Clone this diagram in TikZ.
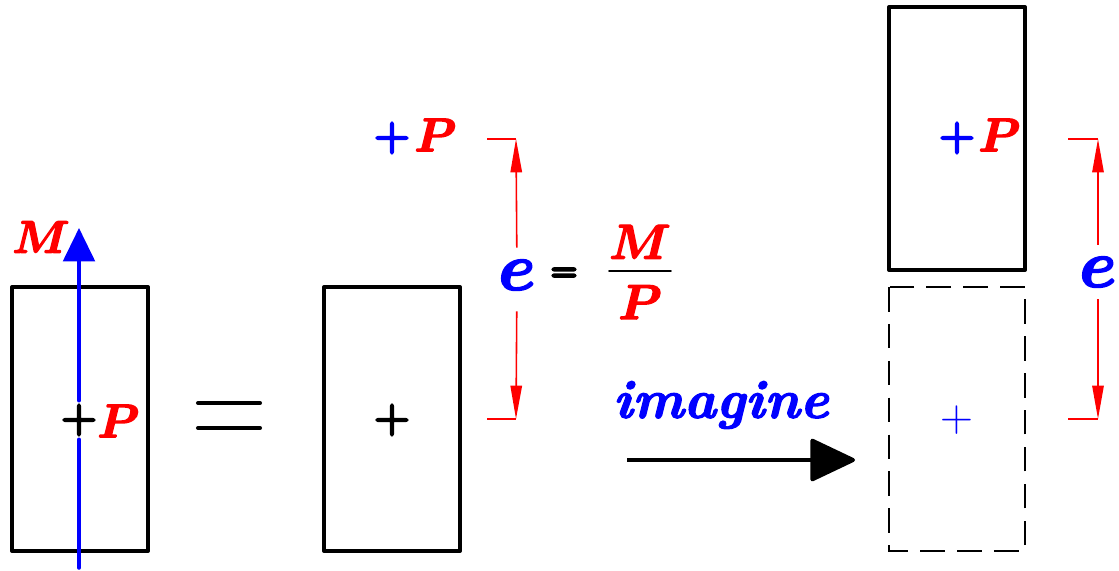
\RequirePackage{fix-cm}
\documentclass[tikz,border=0pt]{standalone}
\usepackage{amsmath,bm}
\usetikzlibrary{arrows.meta}
\newcommand{\fsz}[1]{\fontsize{#1}{#1}\selectfont}
% heavier glyphs: fill and stroke the outline, width in bp
\newcommand{\heavy}[2]{\special{pdf:literal direct 2 Tr #1 w 1 j 1 J}#2\special{pdf:literal direct 0 Tr}}

\begin{document}
\begin{tikzpicture}[x=0.02cm, y=-0.02cm,
  section/.style={line width=2.3pt, line join=round},
  ghost/.style={line width=1.1pt, dash pattern=on 14pt off 7pt},
  dimline/.style={red, line width=0.9pt},
  dimarrow/.style={dimline, -{Triangle[length=19pt,width=6.5pt]}},
  moment/.style={blue, line width=2pt, line cap=round},
  plus/.style={inner sep=2pt, font=\fsz{28}},
  load/.style={red, inner sep=0pt, font=\fsz{27}, anchor=west},
  ecc/.style={blue, inner sep=7pt, font=\fsz{38}}]
  \useasboundingbox (0,0) rectangle (1119,571);
  % left: section under axial load P and moment M
  \draw[section] (12,287) rectangle (148,551);
  \node[plus] (lplus) at (79,420) {\heavy{1.4}{+}};
  \node[load] (lP) at (97,421) {\heavy{0.8}{$\bm{P}$}};
  \coordinate (mbot) at (79,568);
  \coordinate (mtop) at (79,228);
  \draw[moment] (mbot) -- (lplus.south);
  \draw[moment, -{Triangle[length=19pt,width=18pt]}] (lplus.north) -- (mtop);
  \node[red, inner sep=0pt, font=\fsz{26}] (lM) at (41,237) {\heavy{0.8}{$\bm{M}$}};
  % equals
  \draw[line width=2.3pt, line cap=round] (198,403) -- (260,403) (198,428) -- (260,428);
  % middle: same section, load moved off the centre by e
  \draw[section] (324,287) rectangle (460,551);
  \node[plus] (mplus) at (392,420) {\heavy{1.4}{+}};
  \node[plus, blue] (tplus) at (392,138) {\heavy{1.4}{+}};
  \node[load] (tP) at (414,135) {\heavy{0.8}{$\bm{P}$}};
  \node[ecc] (e1) at (517,275) {\heavy{1}{$\bm{e}$}};
  \coordinate (d1t) at (516,139);
  \coordinate (d1b) at (516,419);
  \coordinate (d1tl) at (487,139);
  \coordinate (d1bl) at (487,419);
  \draw[dimline] (d1tl) -- (d1t) (d1bl) -- (d1b);
  \draw[dimarrow] (e1) -- (d1t);
  \draw[dimarrow, shorten <=5pt] (e1) -- (d1b);
  \node[inner sep=0pt, font=\fsz{20}] (eq) at (564,275) {\heavy{1.8}{=}};
  \node[inner sep=0pt, font=\fsz{28}] (frac) at (640,272)
    {$\frac{\textstyle\textcolor{red}{\heavy{0.8}{\bm{M}}}\rule[-0.2em]{0pt}{0pt}}{\textstyle\rule{0pt}{0.92em}\textcolor{red}{\heavy{0.8}{\bm{P}}}}$};
  % imagine arrow
  \node[blue, inner sep=0pt, font=\fsz{31}] (imag) at (721,405) {\heavy{0.7}{\textbf{\textit{imagine}}}};
  \coordinate (ia) at (627,460);
  \coordinate (ib) at (855,460);
  \draw[line width=2.3pt, -{Triangle[length=27pt,width=25pt,round]}] (ia) -- (ib);
  % right: shifted section and its ghost
  \draw[section] (889,7) rectangle (1025,270);
  \draw[ghost] (889,287) rectangle (1025,551);
  \node[plus, blue] (rplus) at (957,138) {\heavy{1.4}{+}};
  \node[load] (rP) at (978,135) {\heavy{0.8}{$\bm{P}$}};
  \node[plus, blue, font=\fsz{26}] (gplus) at (957,420) {+};
  \node[ecc] (e2) at (1098,272) {\heavy{1}{$\bm{e}$}};
  \coordinate (d2t) at (1098,139);
  \coordinate (d2b) at (1098,419);
  \coordinate (d2tl) at (1068,139);
  \coordinate (d2bl) at (1068,419);
  \draw[dimline] (d2tl) -- (d2t) (d2bl) -- (d2b);
  \draw[dimarrow] (e2) -- (d2t);
  \draw[dimarrow] (e2) -- (d2b);
\end{tikzpicture}
\end{document}
